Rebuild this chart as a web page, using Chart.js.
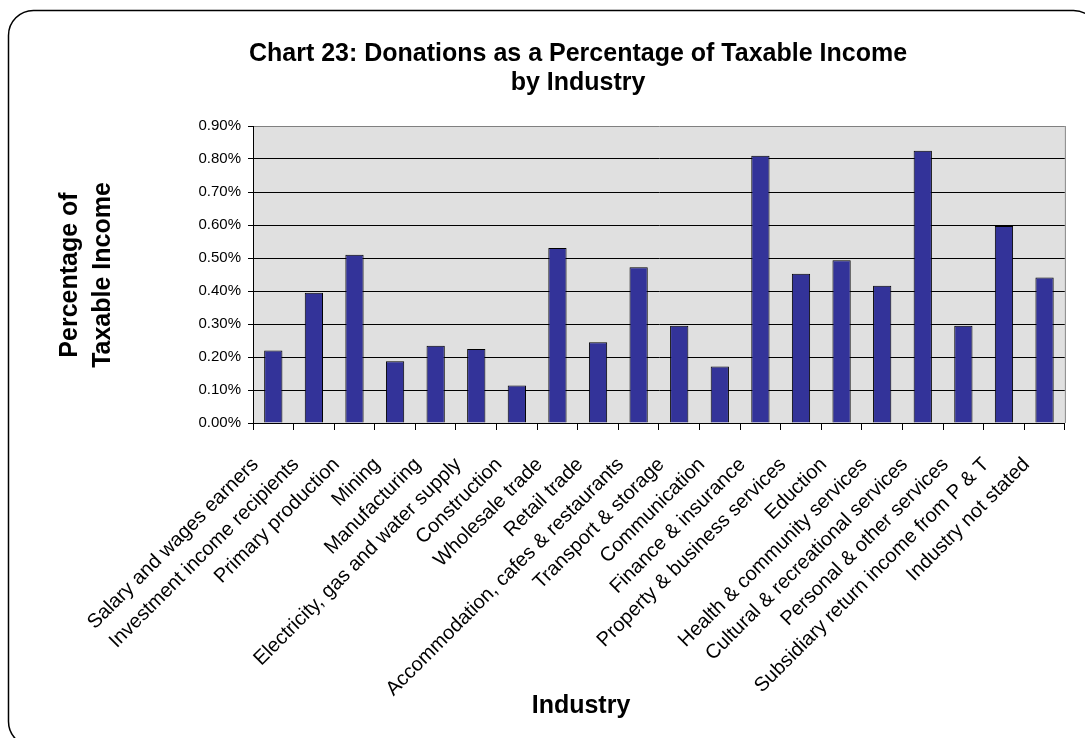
<!DOCTYPE html>
<html>
<head>
<meta charset="utf-8">
<title>Donations by Industry</title>
<script src="https://cdn.jsdelivr.net/npm/chart.js@4/dist/chart.umd.min.js"></script>
<style>
  html, body { margin: 0; padding: 0; background: #fff; }
  canvas { display: block; }
</style>
</head>
<body>
<canvas id="myChart" width="1085" height="738"></canvas>
<script>
// industries along the x axis
const industries = [
    'Salary and wages earners',
    'Investment income recipients',
    'Primary production',
    'Mining',
    'Manufacturing',
    'Electricity, gas and water supply',
    'Construction',
    'Wholesale trade',
    'Retail trade',
    'Accommodation, cafes & restaurants',
    'Transport & storage',
    'Communication',
    'Finance & insurance',
    'Property & business services',
    'Eduction',
    'Health & community services',
    'Cultural & recreational services',
    'Personal & other services',
    'Subsidiary return income from P & T',
    'Industry not stated'
];

// donations as % of taxable income
const donationPct = [
    0.220, 0.395, 0.510, 0.187, 0.234, 0.224, 0.114, 0.530, 0.245, 0.472,
    0.295, 0.171, 0.810, 0.452, 0.493, 0.416, 0.825, 0.295, 0.597, 0.441
];

// y axis ticks
const yTicks = [0, 0.1, 0.2, 0.3, 0.4, 0.5, 0.6, 0.7, 0.8, 0.9];

const chartTitle = ['Chart 23: Donations as a Percentage of Taxable Income', 'by Industry'];
const yTitle = ['Percentage of', 'Taxable Income'];
const xTitle = 'Industry';

const FONT = "'Liberation Sans', Arial, sans-serif";
Chart.defaults.font.family = FONT;
Chart.defaults.color = '#000';

// grey plot area, outer frame and the titles
const frame = {
    id: 'frame',
    beforeDraw(chart) {
        const { ctx, chartArea: a } = chart;
        ctx.save();
        ctx.fillStyle = '#fff';
        ctx.fillRect(0, 0, chart.width, chart.height);
        ctx.fillStyle = '#e0e0e0';
        ctx.fillRect(a.left, a.top, a.right - a.left, a.bottom - a.top);
        ctx.restore();
    },
    afterDraw(chart) {
        const { ctx, chartArea: a } = chart;
        ctx.save();
        // right edge of plot
        ctx.strokeStyle = '#808080';
        ctx.lineWidth = 1;
        ctx.beginPath();
        ctx.moveTo(a.right + 0.5, a.top);
        ctx.lineTo(a.right + 0.5, a.bottom);
        ctx.stroke();

        // rounded outer border
        ctx.strokeStyle = '#000';
        ctx.lineWidth = 1.5;
        ctx.beginPath();
        ctx.roundRect(8.5, 10.5, 1090, 736, 25);
        ctx.stroke();

        ctx.fillStyle = '#000';
        ctx.font = 'bold 25px ' + FONT;
        ctx.textAlign = 'center';
        ctx.textBaseline = 'alphabetic';
        ctx.fillText(chartTitle[0], 578, 61);
        ctx.fillText(chartTitle[1], 578, 90);
        ctx.fillText(xTitle, 581, 713);

        [77, 110].forEach((x, i) => {
            ctx.save();
            ctx.translate(x, 275);
            ctx.rotate(-Math.PI / 2);
            ctx.fillText(yTitle[i], 0, 0);
            ctx.restore();
        });
        ctx.restore();
    }
};

const ctx = document.getElementById('myChart').getContext('2d');
const myChart = new Chart(ctx, {
    type: 'bar',
    data: {
        labels: industries,
        datasets: [{
            data: donationPct,
            backgroundColor: '#333399',
            borderColor: '#000',
            borderWidth: 1,
            barPercentage: 0.45,
            categoryPercentage: 1
        }]
    },
    options: {
        responsive: false,
        animation: false,
        devicePixelRatio: 1,
        layout: {
            padding: { top: 126, right: 19, bottom: 0, left: 183 }
        },
        plugins: {
            legend: { display: false },
            tooltip: { enabled: false }
        },
        scales: {
            x: {
                afterFit: s => { s.height = 315; },
                grid: {
                    offset: true,
                    drawOnChartArea: false,
                    drawTicks: true,
                    tickLength: 7,
                    color: '#000'
                },
                border: { color: '#000', width: 1 },
                ticks: {
                    autoSkip: false,
                    maxRotation: 45,
                    minRotation: 45,
                    labelOffset: -18,
                    padding: 23,
                    font: { size: 20 },
                    color: '#000'
                }
            },
            y: {
                min: 0,
                max: 0.9,
                afterFit: s => { s.width = 70; },
                afterBuildTicks: s => { s.ticks = yTicks.map(v => ({ value: v })); },
                grid: {
                    color: c => (c.tick && c.tick.value === 0.9 ? '#808080' : '#000'),
                    tickColor: '#000',
                    tickLength: 5,
                    lineWidth: 1
                },
                border: { color: '#000', width: 1 },
                ticks: {
                    padding: 7,
                    font: { size: 15 },
                    color: '#000',
                    callback: v => v.toFixed(2) + '%'
                }
            }
        }
    },
    plugins: [frame]
});
</script>
</body>
</html>
